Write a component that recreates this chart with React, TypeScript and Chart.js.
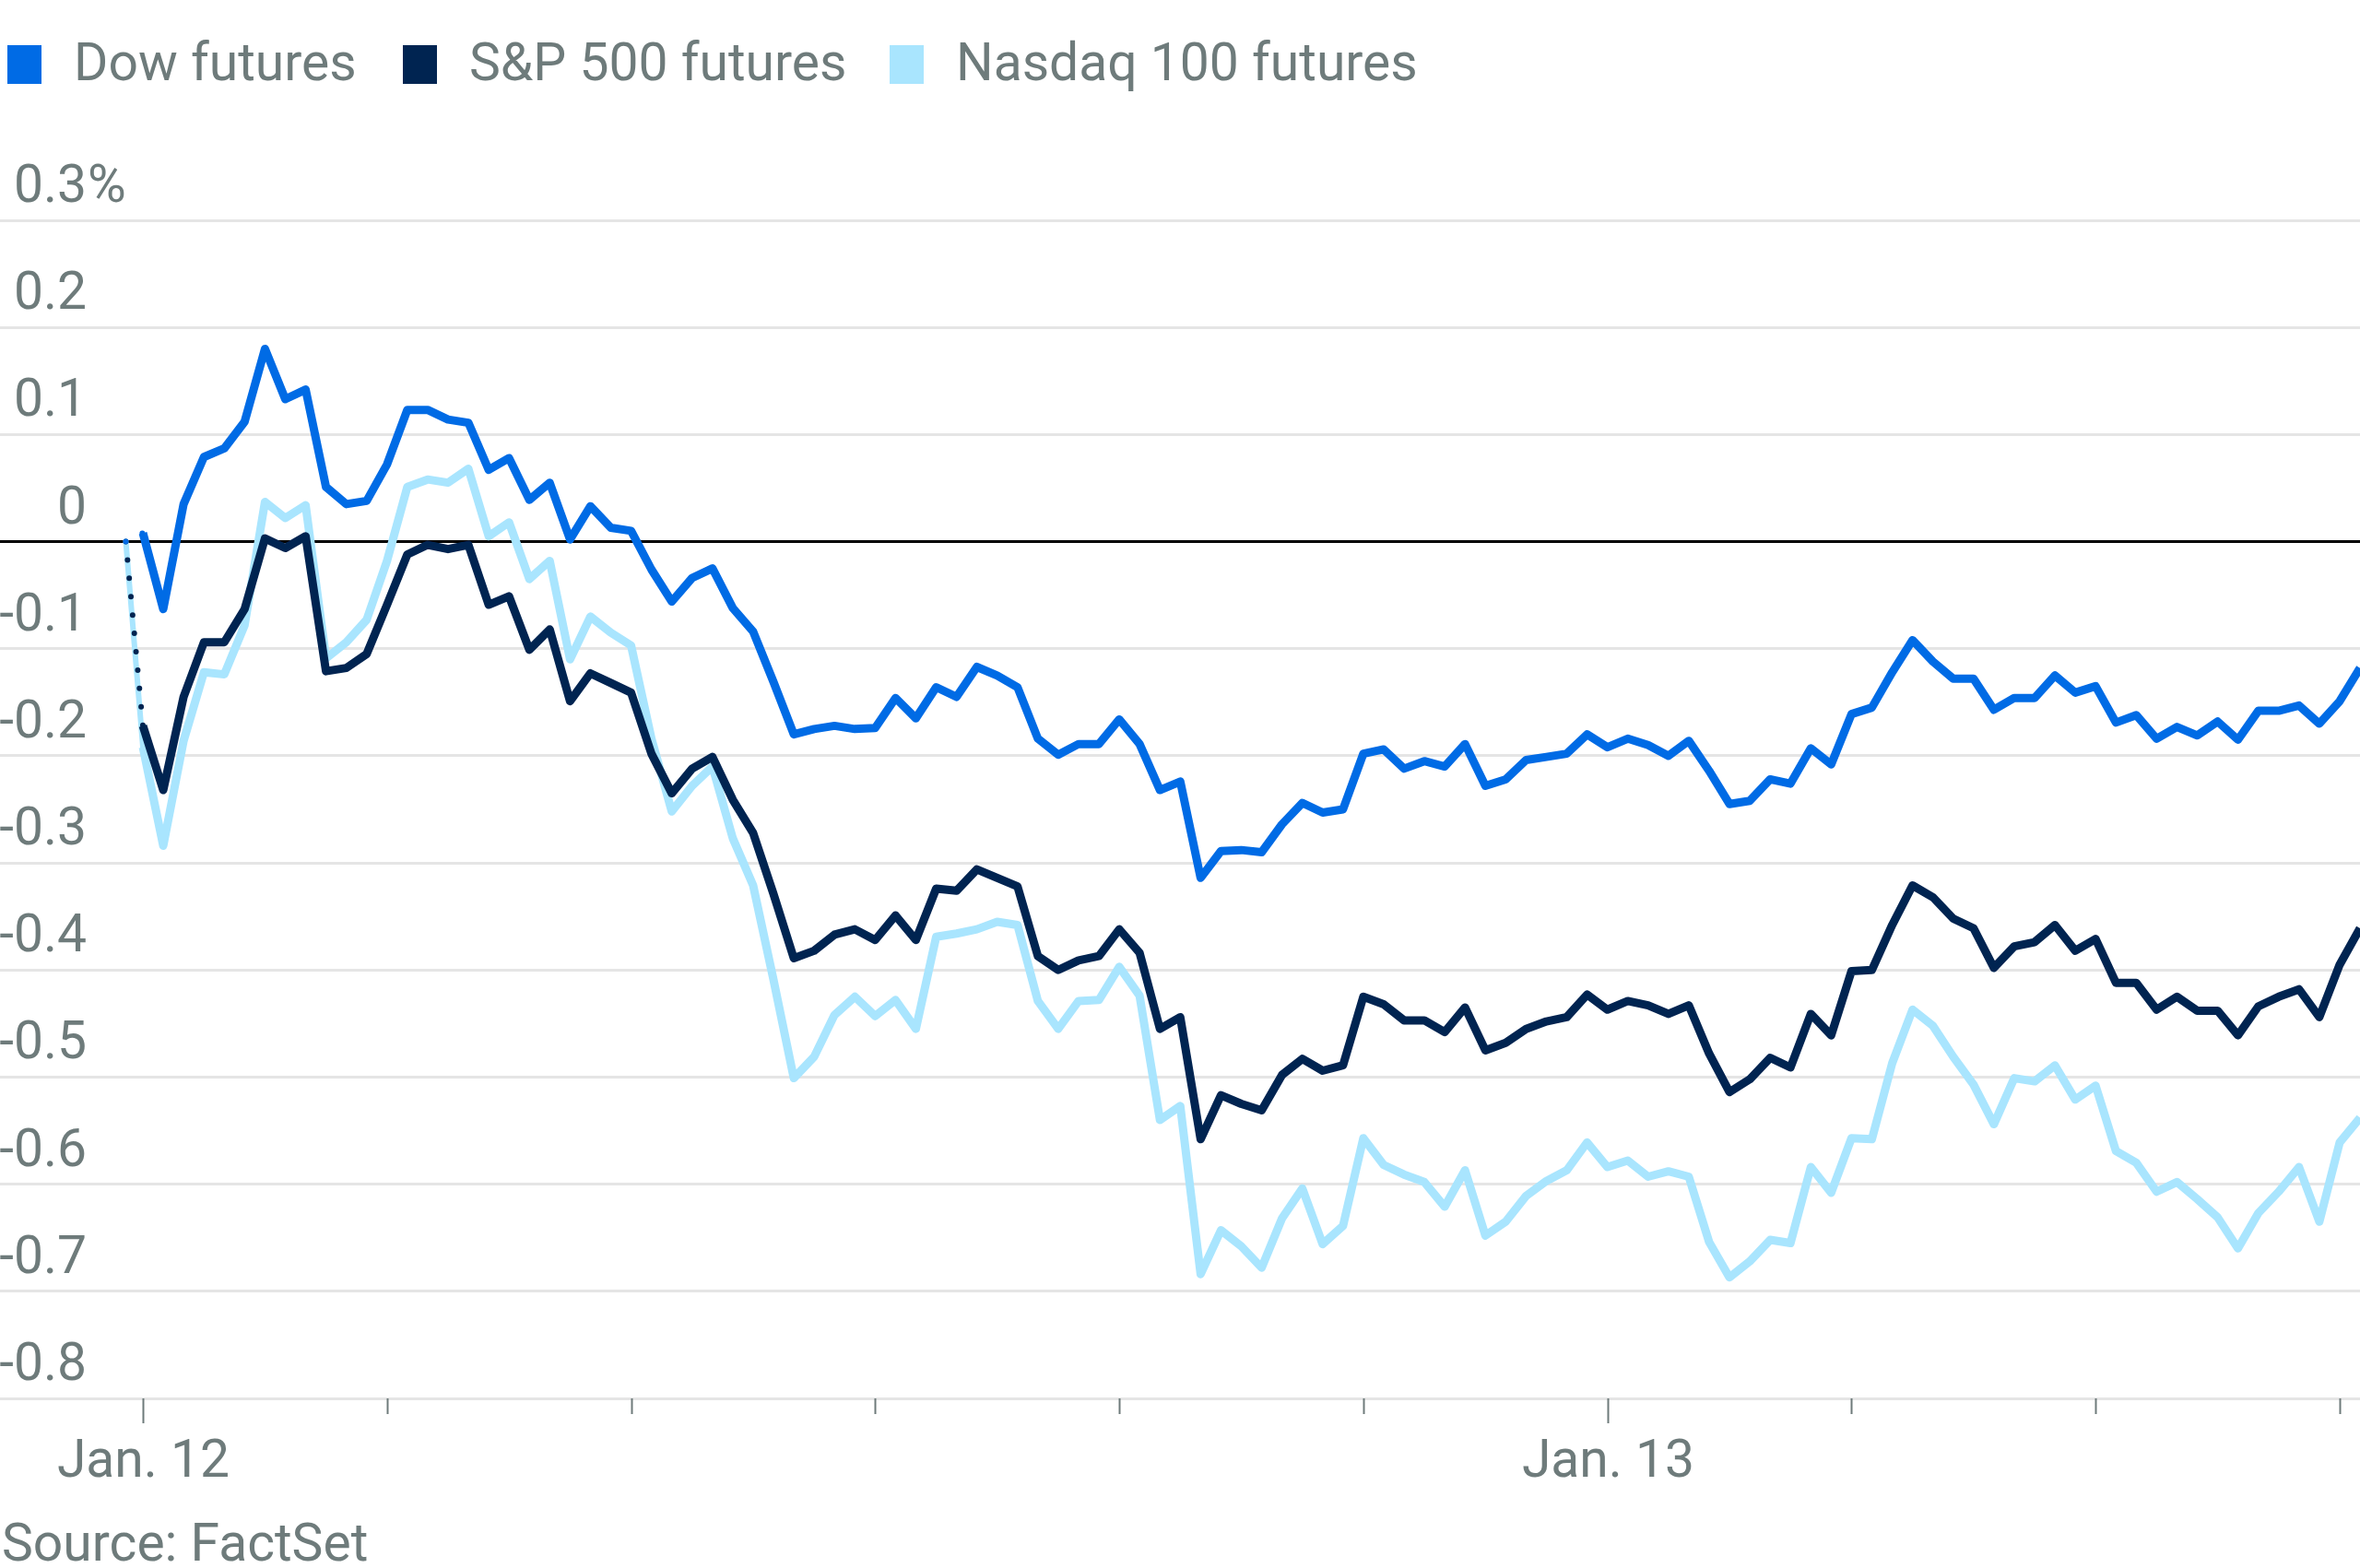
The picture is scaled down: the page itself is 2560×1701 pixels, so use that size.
import { useEffect, useRef } from 'react';
import { Chart, registerables } from 'chart.js';

Chart.register(...registerables);

// ---- Data (percent change vs previous close), one point every 20 minutes from Jan. 12 00:00 ----
const seriesNames = ['Dow futures', 'S&P 500 futures', 'Nasdaq 100 futures'];

const dowValues = [
  0.008, -0.063, 0.035, 0.079, 0.087, 0.112, 0.180, 0.133, 0.142, 0.051,
  0.035, 0.038, 0.072, 0.123, 0.123, 0.114, 0.111, 0.067, 0.078, 0.039,
  0.055, 0.002, 0.033, 0.013, 0.010, -0.026, -0.056, -0.034, -0.025, -0.062,
  -0.084, -0.131, -0.180, -0.175, -0.172, -0.175, -0.174, -0.146, -0.165, -0.136,
  -0.145, -0.117, -0.125, -0.136, -0.184, -0.199, -0.189, -0.189, -0.166, -0.189,
  -0.232, -0.224, -0.314, -0.289, -0.288, -0.290, -0.264, -0.244, -0.253, -0.250,
  -0.198, -0.194, -0.212, -0.205, -0.210, -0.189, -0.228, -0.222, -0.204, -0.201,
  -0.198, -0.180, -0.192, -0.184, -0.190, -0.200, -0.186, -0.214, -0.245, -0.242,
  -0.222, -0.226, -0.193, -0.208, -0.161, -0.155, -0.122, -0.092, -0.112, -0.128,
  -0.128, -0.157, -0.146, -0.146, -0.125, -0.141, -0.135, -0.169, -0.162, -0.184,
  -0.173, -0.181, -0.168, -0.185, -0.158, -0.158, -0.153, -0.170, -0.149, -0.118,
];

const spValues = [
  -0.172, -0.232, -0.145, -0.094, -0.094, -0.063, 0.003, -0.006, 0.005, -0.121,
  -0.118, -0.105, -0.059, -0.012, -0.003, -0.007, -0.003, -0.059, -0.051, -0.101,
  -0.082, -0.149, -0.123, -0.132, -0.141, -0.198, -0.235, -0.212, -0.201, -0.241,
  -0.272, -0.329, -0.389, -0.382, -0.367, -0.362, -0.372, -0.349, -0.372, -0.324,
  -0.326, -0.306, -0.314, -0.322, -0.387, -0.400, -0.391, -0.387, -0.362, -0.384,
  -0.455, -0.444, -0.558, -0.517, -0.525, -0.531, -0.498, -0.483, -0.494, -0.489,
  -0.425, -0.432, -0.447, -0.447, -0.458, -0.435, -0.475, -0.468, -0.455, -0.448,
  -0.444, -0.423, -0.437, -0.429, -0.433, -0.441, -0.433, -0.478, -0.514, -0.502,
  -0.482, -0.491, -0.441, -0.461, -0.401, -0.400, -0.358, -0.321, -0.332, -0.352,
  -0.361, -0.398, -0.378, -0.374, -0.358, -0.382, -0.371, -0.412, -0.412, -0.437,
  -0.425, -0.438, -0.438, -0.461, -0.434, -0.425, -0.418, -0.444, -0.395, -0.361,
];

const nasdaqValues = [
  -0.192, -0.284, -0.186, -0.122, -0.124, -0.078, 0.037, 0.022, 0.034, -0.109,
  -0.094, -0.073, -0.018, 0.051, 0.058, 0.055, 0.068, 0.005, 0.018, -0.035,
  -0.018, -0.110, -0.070, -0.085, -0.097, -0.184, -0.252, -0.228, -0.210, -0.277,
  -0.321, -0.409, -0.501, -0.481, -0.442, -0.425, -0.443, -0.428, -0.455, -0.369,
  -0.366, -0.362, -0.355, -0.358, -0.429, -0.455, -0.429, -0.428, -0.397, -0.424,
  -0.540, -0.527, -0.684, -0.643, -0.658, -0.678, -0.632, -0.604, -0.656, -0.639,
  -0.557, -0.582, -0.591, -0.598, -0.621, -0.587, -0.648, -0.635, -0.611, -0.597,
  -0.587, -0.561, -0.584, -0.578, -0.593, -0.588, -0.593, -0.654, -0.687, -0.672,
  -0.652, -0.655, -0.584, -0.608, -0.557, -0.558, -0.487, -0.437, -0.452, -0.481,
  -0.507, -0.544, -0.501, -0.504, -0.489, -0.521, -0.508, -0.569, -0.580, -0.607,
  -0.598, -0.614, -0.631, -0.660, -0.627, -0.607, -0.584, -0.635, -0.561, -0.538,
];

// previous close reference (0%) shortly before Jan. 12 00:00
const prevCloseHour = -0.28;
const prevCloseValue = 0;
const stepHours = 20 / 60;

const xTickHours = [0, 4, 8, 12, 16, 20, 24, 28, 32, 36];
const xTickLabels: Record<number, string> = { 0: 'Jan. 12', 24: 'Jan. 13' };
const yTickValues = [0.3, 0.2, 0.1, 0, -0.1, -0.2, -0.3, -0.4, -0.5, -0.6, -0.7, -0.8];
const yTickLabels = ['0.3', '0.2', '0.1', '0', '-0.1', '-0.2', '-0.3', '-0.4', '-0.5', '-0.6', '-0.7', '-0.8'];
const yTopSuffix = '%';
const sourceText = 'Source: FactSet';

// ---- Styles ----
const W = 2560;
const H = 1701;
const FONT = '"Roboto", "Liberation Sans", sans-serif';
const FONT_SIZE = 57;
const TEXT_COLOR = '#6e7b7b';
const GRID_COLOR = '#e5e5e5';
const COLORS = ['#006be5', '#002451', '#a9e5fe'];
const LEGEND_BOX_X = [8, 437, 965];
const LINE_WIDTH = 9;
const DOT_WIDTH = 6;

const X_MIN = -2.342;
const X_MAX = 36.333;

function buildPoints(values: number[]) {
  return [{ x: prevCloseHour, y: prevCloseValue }, ...values.map((v, i) => ({ x: i * stepHours, y: v }))];
}

const overlayPlugin = {
  id: 'overlay',
  afterDraw(chart: any) {
    const ctx = chart.ctx as CanvasRenderingContext2D;
    const xs = chart.scales.x;
    const ys = chart.scales.y;
    const bottom = chart.chartArea.bottom;
    ctx.save();
    ctx.font = `${FONT_SIZE}px ${FONT}`;
    ctx.fillStyle = TEXT_COLOR;
    ctx.textBaseline = 'alphabetic';

    // legend
    chart.data.datasets.forEach((ds: any, k: number) => {
      const lx = LEGEND_BOX_X[k];
      ctx.fillStyle = ds.borderColor;
      ctx.fillRect(lx, 49, 37, 42);
      ctx.fillStyle = TEXT_COLOR;
      ctx.textAlign = 'left';
      ctx.fillText(ds.label, lx + 72, 87);
    });

    // y labels (sit above their gridline, numbers right aligned, % hanging)
    yTickValues.forEach((v, i) => {
      const py = ys.getPixelForValue(v) - 20;
      ctx.textAlign = 'right';
      ctx.fillText(yTickLabels[i], 94, py);
      if (i === 0) {
        ctx.textAlign = 'left';
        ctx.fillText(yTopSuffix, 95, py);
      }
    });

    // x ticks and labels
    ctx.strokeStyle = TEXT_COLOR;
    ctx.lineWidth = 2;
    xTickHours.forEach((h) => {
      const px = Math.round(xs.getPixelForValue(h)) + 0.5;
      const major = xTickLabels[h] !== undefined;
      ctx.beginPath();
      ctx.moveTo(px, bottom);
      ctx.lineTo(px, bottom + (major ? 27 : 17));
      ctx.stroke();
      if (major) {
        ctx.textAlign = 'center';
        ctx.fillText(xTickLabels[h], px, 1602);
      }
    });

    // source
    ctx.textAlign = 'left';
    ctx.fillText(sourceText, 2, 1693);
    ctx.restore();
  },
};

export default function App() {
  const canvasRef = useRef<HTMLCanvasElement>(null);

  useEffect(() => {
    document.body.style.margin = '0';
    const canvas = canvasRef.current;
    if (!canvas) return;
    const allValues = [dowValues, spValues, nasdaqValues];
    const chart = new Chart(canvas, {
      type: 'line',
      data: {
        datasets: allValues.map((vals, k) => ({
          label: seriesNames[k],
          data: buildPoints(vals),
          borderColor: COLORS[k],
          backgroundColor: COLORS[k],
          borderWidth: LINE_WIDTH,
          pointRadius: 0,
          tension: 0,
          fill: false,
          borderJoinStyle: 'round' as const,
          segment: {
            borderDash: (c: any) => (c.p0DataIndex === 0 && k !== 2 ? [0, 20] : []),
            borderCapStyle: (c: any) => (c.p0DataIndex === 0 ? 'round' : 'butt'),
            borderWidth: (c: any) => (c.p0DataIndex === 0 ? DOT_WIDTH : LINE_WIDTH),
          },
        })),
      },
      options: {
        responsive: false,
        devicePixelRatio: 1,
        animation: false,
        layout: { padding: { top: 239, left: 0, right: 0, bottom: 0 } },
        plugins: {
          legend: { display: false },
          tooltip: { enabled: false },
          title: { display: false },
        },
        scales: {
          x: {
            type: 'linear',
            min: X_MIN,
            max: X_MAX,
            grid: { display: false },
            border: { display: false },
            ticks: { display: false },
            afterBuildTicks: (s: any) => {
              s.ticks = xTickHours.map((v) => ({ value: v }));
            },
            afterFit: (s: any) => {
              s.height = 184;
            },
          },
          y: {
            type: 'linear',
            min: -0.8,
            max: 0.3,
            grid: {
              color: (c: any) => (c.tick && Math.abs(c.tick.value) < 1e-9 ? '#000000' : GRID_COLOR),
              lineWidth: 3,
              drawTicks: false,
            },
            border: { display: false },
            ticks: { display: false },
            afterBuildTicks: (s: any) => {
              s.ticks = yTickValues.map((v) => ({ value: v }));
            },
            afterFit: (s: any) => {
              s.width = 0;
            },
          },
        },
      },
      plugins: [overlayPlugin],
    } as any);
    return () => chart.destroy();
  }, []);

  return (
    <div style={{ width: W, height: H, background: '#ffffff' }}>
      <canvas ref={canvasRef} width={W} height={H} style={{ display: 'block', width: W, height: H }} />
    </div>
  );
}
